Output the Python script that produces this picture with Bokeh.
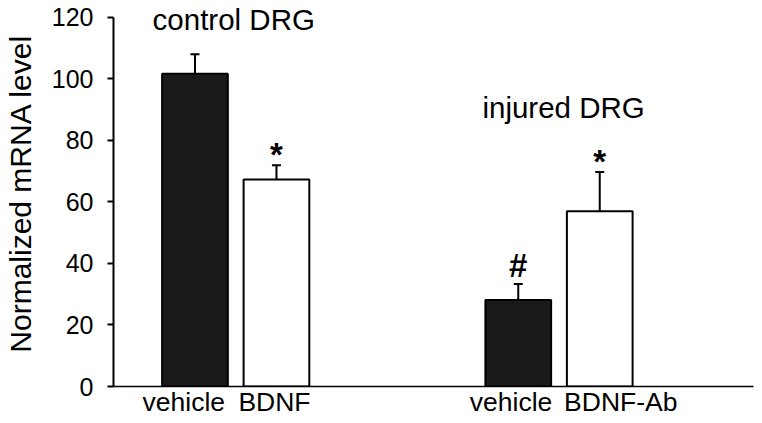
from bokeh.plotting import figure
from bokeh.models import (ColumnDataSource, FixedTicker, Whisker, TeeHead, Label, Range1d)
from bokeh.embed import file_html
from bokeh.resources import INLINE
from bokeh.core.properties import value

# ---- data ----
groups = ["control DRG", "injured DRG"]
conditions = ["vehicle", "BDNF", "vehicle", "BDNF-Ab"]
group_index = [0, 0, 1, 1]
side = [-1, 1, -1, 1]
means = [101.7, 67.3, 28.1, 57.0]
errors = [6.3, 4.6, 5.2, 12.7]
marks = ["", "*", "#", "*"]
fills = ["#1a1a1a", "#ffffff", "#1a1a1a", "#ffffff"]
group_label_y = [119.4, 90.7]
y_ticks = [0, 20, 40, 60, 80, 100, 120]
y_axis_max = 120

# ---- layout constants ----
first_center = 1.86
group_gap = 4.92
half_sep = 0.62
label_shift = [-0.03, 0.07]
cond_label_shift = [-0.17, -0.03, -0.11, 0.32]
mark_drop = {"*": 8, "#": 0, "": 0}
view_top = 125.5   # a little headroom above the axis end for the group label

xs = [first_center + group_gap * g + half_sep * s for g, s in zip(group_index, side)]
tops = [m + e for m, e in zip(means, errors)]
label_xs = [x + d for x, d in zip(xs, cond_label_shift)]
drops = [mark_drop[m] for m in marks]

src = ColumnDataSource(dict(x=xs, mean=means, top=tops, fill=fills, mark=marks, drop=drops))

FONT = "Liberation Sans"

p = figure(width=760, height=421, output_backend="svg", toolbar_location=None,
           x_range=Range1d(0, 9.74), y_range=Range1d(0, view_top),
           min_border_left=110, min_border_right=7, min_border_top=0,
           min_border_bottom=35)
p.outline_line_color = None
p.border_fill_color = "white"
p.xgrid.grid_line_color = None
p.ygrid.grid_line_color = None
p.background_fill_color = "white"

p.vbar(x="x", top="mean", bottom=0, width=1.0, source=src, fill_color="fill",
       line_color="black", line_width=2)

w = Whisker(base="x", lower="mean", upper="top", source=src, dimension="height",
            line_color="black", line_width=2, lower_head=None,
            upper_head=TeeHead(size=9, line_color="black", line_width=2))
p.add_layout(w)

p.text(x="x", y="top", text="mark", source=src, text_align="center",
       text_baseline="bottom", y_offset="drop", text_font=value(FONT),
       text_font_size="33px", text_font_style="bold", text_color="black")

for g, name in enumerate(groups):
    cx = first_center + group_gap * g + label_shift[g]
    p.add_layout(Label(x=cx, y=group_label_y[g], text=name, text_align="center",
                       text_baseline="alphabetic", text_font=FONT,
                       text_font_size="29.5px", text_color="black"))

# y axis
yax = p.yaxis[0]
yax.ticker = FixedTicker(ticks=y_ticks)
yax.bounds = (0, y_axis_max)
yax.axis_label = "Normalized mRNA level"
yax.axis_label_text_font = FONT
yax.axis_label_text_font_size = "30px"
yax.axis_label_text_font_style = "normal"
yax.axis_label_text_color = "black"
yax.axis_label_standoff = 12
yax.major_label_text_font = FONT
yax.major_label_text_font_size = "25px"
yax.major_label_text_color = "black"
yax.major_label_standoff = 14
yax.major_tick_out = 6
yax.major_tick_in = 0
yax.minor_tick_line_color = None
yax.axis_line_width = 2
yax.major_tick_line_width = 2

# x axis
xax = p.xaxis[0]
xax.ticker = FixedTicker(ticks=label_xs)
xax.major_label_overrides = {x: c for x, c in zip(label_xs, conditions)}
xax.major_label_text_font = FONT
xax.major_label_text_font_size = "26.5px"
xax.major_label_text_color = "black"
xax.major_label_standoff = -6
xax.major_tick_line_color = None
xax.minor_tick_line_color = None
xax.axis_line_width = 1.5

open("out.html", "w").write(file_html(p, INLINE))
